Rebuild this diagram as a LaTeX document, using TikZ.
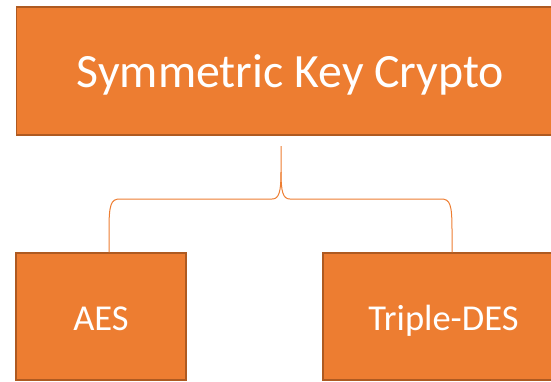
\documentclass[tikz,border=0pt]{standalone}
\usepackage{fontspec}
\setmainfont{Carlito}
\definecolor{boxfill}{HTML}{ED7D31}
\definecolor{boxedge}{HTML}{AE5A21}
\tikzset{
  box/.style={draw=boxedge, line width=1.5pt, fill=boxfill, text=white,
              inner sep=0pt, align=center},
  toptext/.style={font=\fontsize{47.8}{57}\selectfont, text height=32.6pt, text depth=0pt},
  subtext/.style={font=\fontsize{36.5}{44}\selectfont, text height=27pt, text depth=0pt},
  brace/.style={draw=boxfill, line width=1pt}
}
\begin{document}
\begin{tikzpicture}[x=1pt,y=-1pt]
  \useasboundingbox (0,0) rectangle (551,381);
  % boxes
  \node[box, toptext, minimum width=548pt, minimum height=128pt] (root) at (290.5,71) {Symmetric Key Crypto};
  \node[box, subtext, minimum width=170pt, minimum height=127pt] (aes) at (101,316.5) {AES};
  \node[box, subtext, minimum width=241pt, minimum height=127pt] (tdes) at (443.5,316.5) {Triple-DES};
  % brace joining the two children to the parent
  \coordinate (tip) at (281,146);
  \coordinate (bl) at (109,0);
  \coordinate (br) at (452,0);
  \draw[brace] (aes.north -| bl) -- (109,230)
    .. controls (109,204) and (111,199) .. (120,199)
    -- (272,199)
    .. controls (279,199) and (281,192) .. (281,172)
    -- (tip);
  \draw[brace] (tdes.north -| br) -- (452,230)
    .. controls (452,204) and (450,199) .. (441,199)
    -- (290,199)
    .. controls (283,199) and (281,192) .. (281,172);
\end{tikzpicture}
\end{document}
